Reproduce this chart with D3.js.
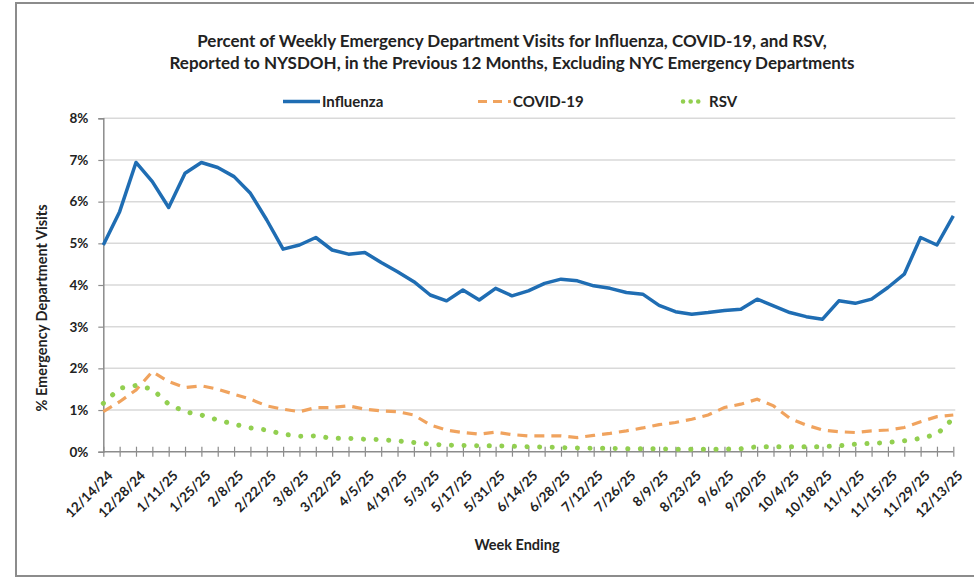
<!DOCTYPE html>
<html><head><meta charset="utf-8">
<script src="https://cdn.jsdelivr.net/npm/d3@7/dist/d3.min.js"></script>
<style>
body{margin:0;background:#fff;}
svg{display:block;font-family:Lato,"Open Sans",sans-serif;font-weight:bold;}
</style></head><body>
<svg id="c" width="974" height="577"></svg>
<script>
const weeks = ["12/14/24","12/21/24","12/28/24","1/4/25","1/11/25","1/18/25","1/25/25","2/1/25","2/8/25","2/15/25","2/22/25","3/1/25","3/8/25","3/15/25","3/22/25","3/29/25","4/5/25","4/12/25","4/19/25","4/26/25","5/3/25","5/10/25","5/17/25","5/24/25","5/31/25","6/7/25","6/14/25","6/21/25","6/28/25","7/5/25","7/12/25","7/19/25","7/26/25","8/2/25","8/9/25","8/16/25","8/23/25","8/30/25","9/6/25","9/13/25","9/20/25","9/27/25","10/4/25","10/11/25","10/18/25","10/25/25","11/1/25","11/8/25","11/15/25","11/22/25","11/29/25","12/6/25","12/13/25"];
const influenza = [4.96,5.76,6.94,6.48,5.86,6.68,6.94,6.82,6.60,6.20,5.56,4.86,4.96,5.14,4.84,4.74,4.78,4.54,4.32,4.08,3.76,3.62,3.88,3.64,3.92,3.74,3.86,4.04,4.14,4.10,3.98,3.92,3.82,3.78,3.51,3.36,3.30,3.34,3.39,3.42,3.66,3.50,3.34,3.24,3.18,3.62,3.56,3.66,3.94,4.26,5.14,4.96,5.66];
const covid = [0.96,1.20,1.48,1.92,1.68,1.54,1.58,1.50,1.38,1.26,1.10,1.02,0.96,1.06,1.06,1.10,1.02,0.98,0.96,0.88,0.64,0.52,0.46,0.42,0.47,0.41,0.38,0.38,0.38,0.34,0.39,0.44,0.50,0.57,0.65,0.70,0.78,0.88,1.06,1.14,1.26,1.10,0.80,0.64,0.52,0.48,0.46,0.50,0.52,0.58,0.72,0.84,0.88];
const rsv = [1.16,1.52,1.59,1.50,1.14,0.96,0.88,0.76,0.66,0.57,0.52,0.42,0.37,0.38,0.32,0.32,0.30,0.29,0.26,0.22,0.18,0.16,0.15,0.14,0.14,0.13,0.12,0.11,0.10,0.09,0.08,0.08,0.07,0.07,0.07,0.06,0.06,0.06,0.06,0.07,0.12,0.12,0.12,0.12,0.12,0.14,0.18,0.20,0.22,0.26,0.32,0.42,0.80];
const yTicks = [0,1,2,3,4,5,6,7,8];
const seriesNames = ["Influenza","COVID-19","RSV"];

const svg = d3.select("#c");
svg.append("rect").attr("x",16).attr("y",3).attr("width",980).attr("height",573)
  .attr("fill","#fff").attr("stroke","#8c8c8c").attr("stroke-width",2);

const pL=103.3, pR=953.3, pT=118.3, pB=451.7;
const x = d3.scalePoint().domain(weeks).range([pL,pR]);
const y = d3.scaleLinear().domain([0,8]).range([pB,pT]);

svg.append("g").selectAll("line").data(yTicks.filter(d=>d>0)).join("line")
  .attr("x1",pL).attr("x2",pR+2).attr("y1",d=>y(d)).attr("y2",d=>y(d))
  .attr("stroke","#d9d9d9").attr("stroke-width",1.5);

const ya = svg.append("g").attr("transform",`translate(${pL},0)`)
  .call(d3.axisLeft(y).tickValues(yTicks).tickFormat(d=>d+"%").tickSize(5).tickPadding(10));
ya.select(".domain").attr("stroke","#8c8c8c").attr("stroke-width",1.5);
ya.selectAll(".tick line").attr("stroke","#8c8c8c").attr("stroke-width",1.2);
ya.selectAll("text").attr("font-size",13.5).attr("font-weight","bold").attr("fill","#222").attr("font-family","Lato");

const labelWeeks = weeks.filter((d,i)=>i%2===0);
const xa = svg.append("g").attr("transform",`translate(0,${pB})`)
  .call(d3.axisBottom(x).tickValues(weeks).tickSize(5).tickSizeOuter(0).tickFormat(d=>labelWeeks.includes(d)?d:""));
xa.select(".domain").attr("stroke","#8c8c8c").attr("stroke-width",1.5).attr("d",`M${pL},0H${pR}`);
xa.selectAll(".tick line").attr("stroke","#8c8c8c").attr("stroke-width",1.2).attr("y1",-5).attr("y2",5);
xa.selectAll("text").attr("font-size",13.5).attr("font-weight","bold").attr("fill","#222").attr("font-family","Lato")
  .attr("text-anchor","end").attr("dy",0).attr("transform","translate(4,19) rotate(-45)");

const line = d3.line().x((d,i)=>x(weeks[i])).y(d=>y(d));
svg.append("path").datum(covid).attr("d",line).attr("fill","none")
  .attr("stroke","#f0a35e").attr("stroke-width",3.2).attr("stroke-dasharray","10,7");
svg.append("path").datum(rsv).attr("d",line).attr("fill","none")
  .attr("stroke","#92cf50").attr("stroke-width",5).attr("stroke-linecap","round").attr("stroke-dasharray","0.1,12.5");
svg.append("path").datum(influenza).attr("d",line).attr("fill","none")
  .attr("stroke","#1f6db3").attr("stroke-width",3.5).attr("stroke-linejoin","round");

const title = svg.append("text").attr("x",512).attr("text-anchor","middle").attr("font-size",17).attr("fill","#222");
title.append("tspan").attr("x",512).attr("y",47).text("Percent of Weekly Emergency Department Visits for Influenza, COVID-19, and RSV,");
title.append("tspan").attr("x",512).attr("y",69).text("Reported to NYSDOH, in the Previous 12 Months, Excluding NYC Emergency Departments");

const lg = svg.append("g");
lg.append("line").attr("x1",283).attr("x2",320).attr("y1",101.5).attr("y2",101.5).attr("stroke","#1f6db3").attr("stroke-width",3.5);
lg.append("text").attr("x",322).attr("y",107).attr("font-size",15).attr("fill","#222").text(seriesNames[0]);
lg.append("line").attr("x1",478).attr("x2",511).attr("y1",101.5).attr("y2",101.5).attr("stroke","#f0a35e").attr("stroke-width",3.2).attr("stroke-dasharray","9,6");
lg.append("text").attr("x",513).attr("y",107).attr("font-size",15).attr("fill","#222").text(seriesNames[1]);
lg.append("line").attr("x1",683).attr("x2",700).attr("y1",101.5).attr("y2",101.5).attr("stroke","#92cf50").attr("stroke-width",4.5).attr("stroke-linecap","round").attr("stroke-dasharray","0.1,7.5");
lg.append("text").attr("x",709).attr("y",107).attr("font-size",15).attr("fill","#222").text(seriesNames[2]);

svg.append("text").attr("transform","translate(47,308) rotate(-90)").attr("text-anchor","middle")
  .attr("font-size",14.5).attr("fill","#222").text("% Emergency Department Visits");
svg.append("text").attr("x",517).attr("y",550).attr("text-anchor","middle")
  .attr("font-size",14.5).attr("fill","#222").text("Week Ending");
</script></body></html>
